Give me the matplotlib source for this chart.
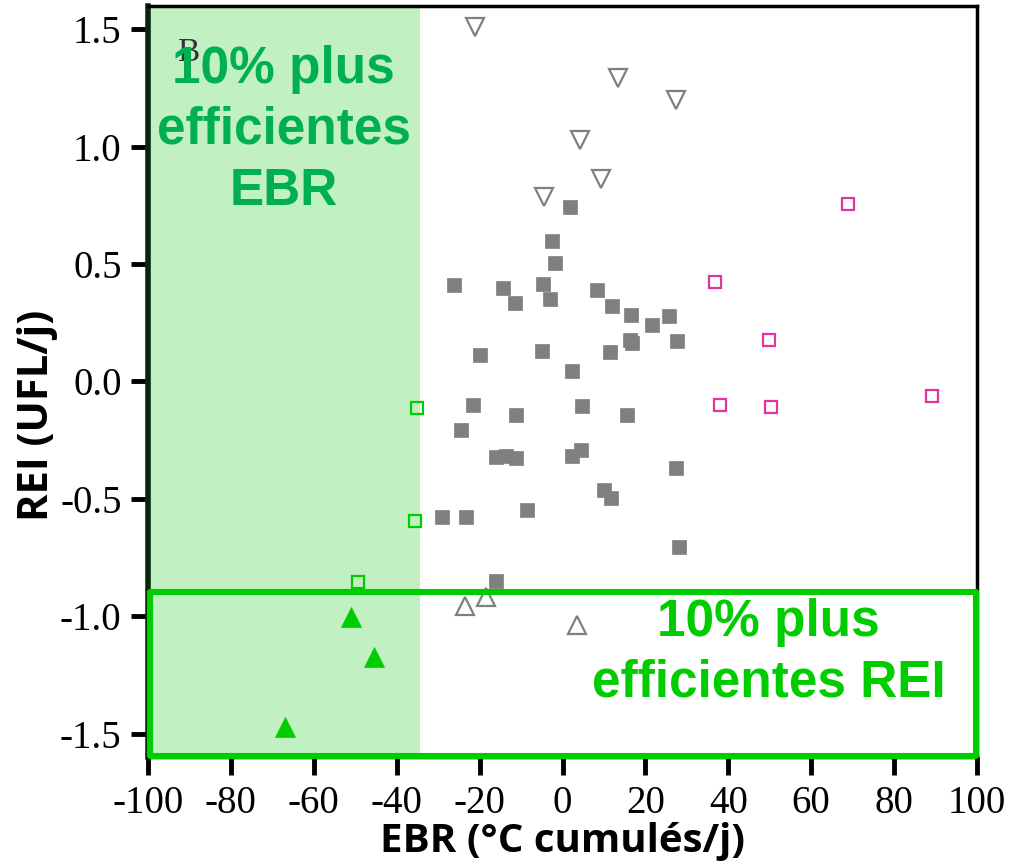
import matplotlib
matplotlib.use("Agg")
import matplotlib.pyplot as plt
from matplotlib.patches import Rectangle

# ---------------- data ----------------
# gray filled squares (middle group)
mid_x = [1.7, -2.6, -1.9, -26.2, -14.3, -11.4, -4.6, -3.1, 8.3, 12.0, 16.6, 21.7, 25.8,
         16.2, 16.8, 27.7, -20.0, -4.9, 11.5, 2.4, -21.5, -11.3, 4.7, 15.5, -24.5,
         -16.1, -13.6, -11.3, 2.2, 4.4, 27.3, 9.9, 11.7, -8.5, -29.0, -23.3, 28.2, -16.1]
mid_y = [0.743, 0.598, 0.507, 0.412, 0.400, 0.334, 0.414, 0.350, 0.391, 0.320, 0.284, 0.240, 0.278,
         0.175, 0.165, 0.174, 0.115, 0.128, 0.125, 0.044, -0.099, -0.142, -0.105, -0.141, -0.206,
         -0.323, -0.316, -0.327, -0.316, -0.291, -0.368, -0.461, -0.496, -0.549, -0.576, -0.577, -0.704, -0.848]

# gray open down-triangles (high REI)
high_x = [-21.2, 13.3, 27.3, 4.3, 9.2, -4.5]
high_y = [1.511, 1.291, 1.201, 1.028, 0.864, 0.786]

# gray open up-triangles (low REI)
low_x = [-23.6, -18.4, 3.5]
low_y = [-0.955, -0.920, -1.036]

# green open squares (efficient EBR)
ebr_x = [-35.0, -35.7, -49.4]
ebr_y = [-0.112, -0.593, -0.856]

# green filled up-triangles (efficient on both)
both_x = [-51.0, -45.6, -67.0]
both_y = [-1.005, -1.173, -1.471]

# magenta open squares (inefficient EBR)
bad_x = [68.9, 36.8, 49.9, 37.9, 50.4, 89.2]
bad_y = [0.756, 0.425, 0.176, -0.101, -0.110, -0.063]

xticks = [-100, -80, -60, -40, -20, 0, 20, 40, 60, 80, 100]
yticks = [-1.5, -1.0, -0.5, 0.0, 0.5, 1.0, 1.5]
ebr_zone = (-100, -34.5)
rei_zone = (-1.595, -0.895)

# ---------------- figure ----------------
fig = plt.figure(figsize=(10.11, 8.64), dpi=100)
ax = fig.add_axes([0.1464, 0.1238, 0.8200, 0.8693])
ax.set_xlim(-100, 100)
ax.set_ylim(-1.6, 1.6)

GREEN = "#00cc00"
GREEN_TXT = "#00b050"
GRAY = "#7f7f7f"
MAGENTA = "#e0359d"

ax.axvspan(ebr_zone[0], ebr_zone[1], color="#c1f0c2", zorder=0, lw=0)

ax.text(-90.2, 1.40, "B", fontfamily="Liberation Serif", fontsize=24,
        color="#333333", ha="center", va="center", zorder=1)

ax.plot(mid_x, mid_y, ls="none", marker="s", ms=10, mfc=GRAY, mec=GRAY, mew=0.5, zorder=3)
ax.plot(high_x, high_y, ls="none", marker="v", ms=13, mfc="white", mec=GRAY, mew=1.6, zorder=3)
ax.plot(low_x, low_y, ls="none", marker="^", ms=13, mfc="white", mec=GRAY, mew=1.6, zorder=3)
ax.plot(ebr_x, ebr_y, ls="none", marker="s", ms=8.5, mfc="none", mec=GREEN, mew=1.6, zorder=3)
ax.plot(both_x, both_y, ls="none", marker="^", ms=14, mfc=GREEN, mec=GREEN, mew=0.5, zorder=3)
ax.plot(bad_x, bad_y, ls="none", marker="s", ms=8.5, mfc="none", mec=MAGENTA, mew=1.6, zorder=3)

rect = Rectangle((-99.6, rei_zone[0]), 199.4, rei_zone[1] - rei_zone[0], fill=False,
                 edgecolor=GREEN, lw=4.4, zorder=6, clip_on=False, joinstyle="round")
ax.add_patch(rect)

ax.text(sum(ebr_zone) / 2, 1.07, "10% plus\nefficientes\nEBR", color=GREEN_TXT,
        fontfamily="Liberation Sans", fontweight="bold", fontsize=37,
        ha="center", va="center", linespacing=1.32, zorder=5)
ax.text(49.7, -1.155, "10% plus\nefficientes REI", color=GREEN,
        fontfamily="Liberation Sans", fontweight="bold", fontsize=37,
        ha="center", va="center", linespacing=1.32, zorder=5)

# axes styling
ax.set_xticks(xticks)
ax.set_xticklabels([f"{v:d}" for v in xticks])
ax.set_yticks(yticks)
ax.set_yticklabels([f"{v:.1f}" for v in yticks])
for lab in ax.get_xticklabels() + ax.get_yticklabels():
    lab.set_fontfamily("Liberation Serif")
    lab.set_fontsize(28)
ax.tick_params(axis="both", direction="out", length=12, width=3.5, color="black", pad=7)
ax.tick_params(axis="x", length=13)

ax.spines["left"].set_color("#0a260a")
ax.spines["left"].set_linewidth(4)
for s in ("top", "right", "bottom"):
    ax.spines[s].set_color("black")
    ax.spines[s].set_linewidth(2.5)

ax.set_xlabel("EBR (°C cumulés/j)", fontfamily="Open Sans", fontweight="bold",
              fontsize=29, labelpad=0)
ax.set_ylabel("REI (UFL/j)", fontfamily="Open Sans", fontweight="bold", fontsize=30)
ax.yaxis.set_label_coords(-0.108, 0.455)

fig.savefig("out.png", dpi=100)
